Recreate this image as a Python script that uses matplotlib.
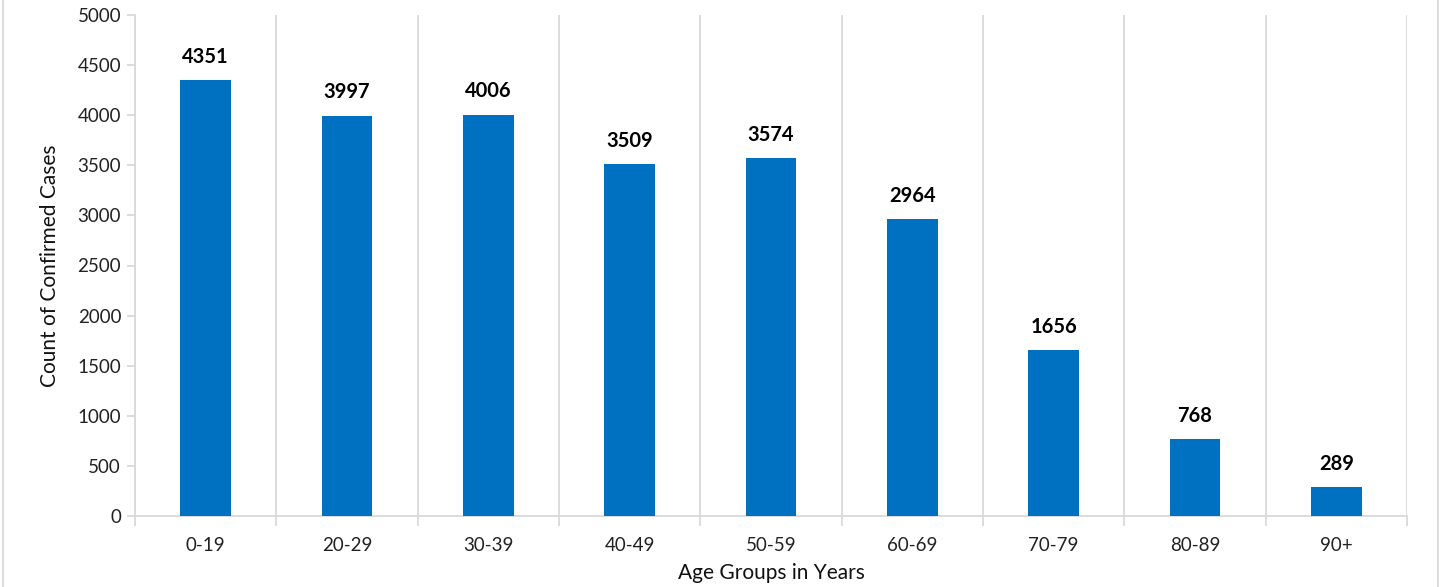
import matplotlib.pyplot as plt
from matplotlib.patches import Rectangle

# values
age_groups = ["0-19", "20-29", "30-39", "40-49", "50-59", "60-69", "70-79", "80-89", "90+"]
cases = [4351, 3997, 4006, 3509, 3574, 2964, 1656, 768, 289]
y_ticks = list(range(0, 5001, 500))

plt.rcParams["font.family"] = ["Lato", "DejaVu Sans"]

bar_color = "#0070C0"
grid_color = "#D9D9D9"

fig = plt.figure(figsize=(14.43, 5.87), dpi=100)
ax = fig.add_axes([135 / 1443, 1 - 516 / 587, (1407 - 135) / 1443, (516 - 15) / 587])

x = list(range(len(age_groups)))
bars = ax.bar(x, cases, width=0.36, color=bar_color, zorder=3)

for b, v in zip(bars, cases):
    ax.annotate(str(v), (b.get_x() + b.get_width() / 2, v), xytext=(0, 9.5),
                textcoords="offset points", ha="center", va="bottom",
                fontsize=14.5, fontweight="bold", color="black")

ax.set_xlim(-0.5, len(age_groups) - 0.5)
ax.set_ylim(0, 5000)
ax.set_yticks(y_ticks)
ax.set_xticks(x)
ax.set_xticklabels(age_groups)

# vertical lines at the category boundaries
bounds = [i - 0.5 for i in range(len(age_groups) + 1)]
for bx in bounds:
    ax.axvline(bx, color=grid_color, lw=1.3, zorder=1)
ax.set_xticks(bounds, minor=True)

for side in ["top", "right"]:
    ax.spines[side].set_visible(False)
ax.spines["left"].set_color(grid_color)
ax.spines["bottom"].set_color(grid_color)
ax.spines["left"].set_linewidth(1.3)
ax.spines["bottom"].set_linewidth(1.3)

ax.tick_params(axis="y", length=6, width=1.3, color=grid_color, labelsize=13.5, pad=4, labelcolor="#222222")
ax.tick_params(axis="x", which="major", length=0, labelsize=13.5, pad=15, labelcolor="#222222")
ax.tick_params(axis="x", which="minor", length=7, width=1.3, color=grid_color)

ax.set_ylabel("Count of Confirmed Cases", fontsize=15, color="#111111")
ax.set_xlabel("Age Groups in Years", fontsize=15, color="#111111")
ax.yaxis.set_label_coords(-0.059, 0.5)
ax.xaxis.set_label_coords(0.5, -0.093)

# light frame around the whole chart
fig.patches.append(Rectangle((3 / 1443, -0.01), 1435 / 1443, 1.05, transform=fig.transFigure,
                             fill=False, edgecolor=grid_color, lw=1.3))

fig.savefig("out.png", dpi=100)
